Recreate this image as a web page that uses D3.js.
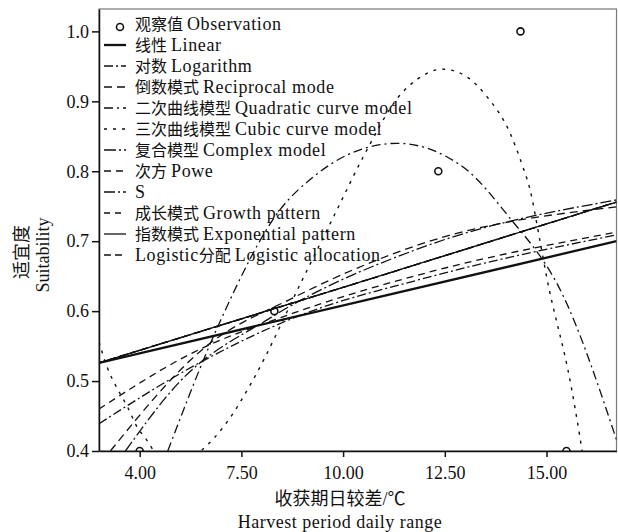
<!DOCTYPE html>
<html>
<head>
<meta charset="utf-8">
<script src="https://cdn.jsdelivr.net/npm/d3@7"></script>
<style>
body { margin: 0; background: #fff; }
svg text { font-family: "Liberation Serif", "Noto Sans CJK SC", serif; fill: #111; }
</style>
</head>
<body>
<div class="canvas"></div>
<script>
// observations (x = daily range, y = suitability)
const obsX = [5.0, 8.31, 12.34, 14.36, 15.49]
const obsY = [0.40, 0.60, 0.80, 1.00, 0.40]

// fitted curves, points
const linearPts = [[4.0, 0.526], [16.72, 0.700]]
const expPts = [[4.0, 0.526], [10.0, 0.634], [16.72, 0.756]]
const logPts = [[4.0, 0.439], [6.37, 0.523], [8.77, 0.590], [12.13, 0.649], [16.72, 0.709]]
const powerPts = [[4.0, 0.460], [6.29, 0.540], [8.77, 0.597], [12.13, 0.656], [16.72, 0.713]]
const reciprocalPts = [[4.28, 0.40], [6.62, 0.549], [8.77, 0.619], [12.13, 0.700], [16.72, 0.749]]
const sPts = [[4.65, 0.40], [5.95, 0.497], [8.2, 0.590], [12.13, 0.695], [16.72, 0.759]]
const quadPts = [[5.69, 0.40], [6.99, 0.587], [8.45, 0.745], [9.27, 0.792], [10.09, 0.823], [10.91, 0.838],
    [11.32, 0.840], [12.95, 0.806], [14.03, 0.738], [15.4, 0.623], [16.72, 0.416]]
const cubicPts = [[4.0, 0.556], [4.2, 0.520], [4.5, 0.484], [4.7, 0.463], [4.94, 0.434], [5.17, 0.416],
    [5.35, 0.400], [5.9, 0.380], [6.5, 0.400], [7.18, 0.444], [7.77, 0.500], [9.0, 0.645], [9.85, 0.745],
    [10.49, 0.820], [11.4, 0.909], [11.81, 0.931], [12.45, 0.946], [13.04, 0.935], [13.53, 0.907],
    [14.1, 0.855], [14.42, 0.806], [14.59, 0.775], [14.84, 0.700], [15.0, 0.650], [15.6, 0.494],
    [15.82, 0.420], [15.9, 0.390]]

const xTicks = [5, 7.5, 10, 12.5, 15]
const xTickLabels = ['4.00', '7.50', '10.00', '12.50', '15.00']
const yTicks = [0.4, 0.5, 0.6, 0.7, 0.8, 0.9, 1.0]

// legend labels: leading latin part, chinese part, english part
const legendPre = ['', '', '', '', '', '', '', '', '', '', '', 'Logistic']
const legendCn = ['观察值', '线性', '对数', '倒数模式', '二次曲线模型', '三次曲线模型', '复合模型', '次方', '', '成长模式', '指数模式', '分配']
const legendEn = ['Observation', 'Linear', 'Logarithm', 'Reciprocal mode', 'Quadratic curve model', 'Cubic curve model',
    'Complex model', 'Powe', 'S', 'Growth pattern', 'Exponential pattern', 'Logistic allocation']

const dims = { width: 618, height: 532 }
const margin = { left: 99, top: 9, right: 1.5, bottom: 81 }

const svg = d3.select('.canvas')
    .append('svg')
    .attr('width', dims.width)
    .attr('height', dims.height)

const x = d3.scaleLinear()
    .domain([4.0, 16.72])
    .range([margin.left, dims.width - margin.right])

const y = d3.scaleLinear()
    .domain([0.4, 1.032])
    .range([dims.height - margin.bottom, margin.top])

// frame
svg.append('rect')
    .attr('x', x.range()[0])
    .attr('y', y.range()[1])
    .attr('width', x.range()[1] - x.range()[0])
    .attr('height', y.range()[0] - y.range()[1])
    .attr('fill', 'none')
    .attr('stroke', '#777')
    .attr('stroke-width', 1.2)

svg.append('clipPath').attr('id', 'plot')
    .append('rect')
    .attr('x', x.range()[0])
    .attr('y', y.range()[1])
    .attr('width', x.range()[1] - x.range()[0])
    .attr('height', y.range()[0] - y.range()[1])

// series in legend order (complex, growth, exponential, logistic overlap)
const series = [
    { pts: linearPts, width: 2.3, dash: null },
    { pts: logPts, width: 1.3, dash: '9,3,2,3' },
    { pts: reciprocalPts, width: 1.3, dash: '8,5' },
    { pts: quadPts, width: 1.3, dash: '9,4,2,4' },
    { pts: cubicPts, width: 1.4, dash: '3,6' },
    { pts: expPts, width: 1.3, dash: '12,3,2,3' },
    { pts: powerPts, width: 1.3, dash: '7,5' },
    { pts: sPts, width: 1.3, dash: '11,3,2,3' },
    { pts: expPts, width: 1.3, dash: '6,5' },
    { pts: expPts, width: 1.3, dash: null },
    { pts: expPts, width: 1.3, dash: '7,4' }
]

const line = d3.line()
    .x(d => x(d[0]))
    .y(d => y(d[1]))
    .curve(d3.curveMonotoneX)

const graph = svg.append('g').attr('clip-path', 'url(#plot)')

graph.selectAll('path')
    .data(series)
    .enter()
    .append('path')
    .attr('d', d => line(d.pts))
    .attr('fill', 'none')
    .attr('stroke', '#111')
    .attr('stroke-width', d => d.width)
    .attr('stroke-dasharray', d => d.dash)

graph.selectAll('circle')
    .data(obsX.map((v, i) => [v, obsY[i]]))
    .enter()
    .append('circle')
    .attr('cx', d => x(d[0]))
    .attr('cy', d => y(d[1]))
    .attr('r', 3.5)
    .attr('fill', 'none')
    .attr('stroke', '#111')
    .attr('stroke-width', 1.6)

// axes
const xAxis = d3.axisBottom(x)
    .tickValues(xTicks)
    .tickFormat((d, i) => xTickLabels[i])
    .tickSize(6)
    .tickSizeOuter(0)

const yAxis = d3.axisLeft(y)
    .tickValues(yTicks)
    .tickFormat(d3.format('.1f'))
    .tickSize(7)
    .tickSizeOuter(0)

const gx = svg.append('g')
    .attr('transform', `translate(0, ${y.range()[0]})`)
    .call(xAxis)
gx.select('.domain').attr('stroke', '#111').attr('stroke-width', 1.5)
gx.selectAll('.tick line').attr('stroke', '#111').attr('stroke-width', 1.5)
gx.selectAll('text')
    .attr('font-size', 18)
    .attr('font-family', null)
    .attr('dy', '1.05em')

const gy = svg.append('g')
    .attr('transform', `translate(${x.range()[0]}, 0)`)
    .call(yAxis)
gy.select('.domain').attr('stroke', '#111').attr('stroke-width', 1.5)
gy.selectAll('.tick line').attr('stroke', '#111').attr('stroke-width', 1.5)
gy.selectAll('text')
    .attr('font-size', 18)
    .attr('font-family', null)

svg.selectAll('.tick text').attr('fill', '#111')

// axis titles
svg.append('text')
    .attr('x', 340).attr('y', 505)
    .attr('text-anchor', 'middle')
    .attr('font-size', 18)
    .text('收获期日较差/℃')

svg.append('text')
    .attr('x', 340).attr('y', 528)
    .attr('text-anchor', 'middle')
    .attr('font-size', 18)
    .attr('letter-spacing', 0.5)
    .text('Harvest period daily range')

svg.append('text')
    .attr('transform', 'translate(28, 252) rotate(-90)')
    .attr('text-anchor', 'middle')
    .attr('font-size', 18)
    .text('适宜度')

svg.append('text')
    .attr('transform', 'translate(49, 255) rotate(-90)')
    .attr('text-anchor', 'middle')
    .attr('font-size', 18)
    .text('Suitability')

// legend
const legend = svg.append('g')
const rowY = i => 24 + i * 21

legend.append('circle')
    .attr('cx', 120).attr('cy', rowY(0) + 3)
    .attr('r', 3.5)
    .attr('fill', 'none')
    .attr('stroke', '#111')
    .attr('stroke-width', 1.6)

legend.selectAll('line')
    .data(series)
    .enter()
    .append('line')
    .attr('x1', 104).attr('x2', 126)
    .attr('y1', (d, i) => rowY(i + 1))
    .attr('y2', (d, i) => rowY(i + 1))
    .attr('stroke', '#111')
    .attr('stroke-width', d => d.width)
    .attr('stroke-dasharray', d => d.dash)

const legendText = legend.selectAll('text')
    .data(legendCn)
    .enter()
    .append('text')
    .attr('x', 135)
    .attr('y', (d, i) => rowY(i))
    .attr('dy', '0.35em')

legendText.append('tspan')
    .attr('font-size', 18)
    .attr('letter-spacing', 0.6)
    .text((d, i) => legendPre[i])

legendText.append('tspan')
    .attr('font-size', 16)
    .text(d => d ? d + ' ' : '')

legendText.append('tspan')
    .attr('font-size', 18)
    .attr('letter-spacing', 0.6)
    .text((d, i) => legendEn[i])
</script>
</body>
</html>
